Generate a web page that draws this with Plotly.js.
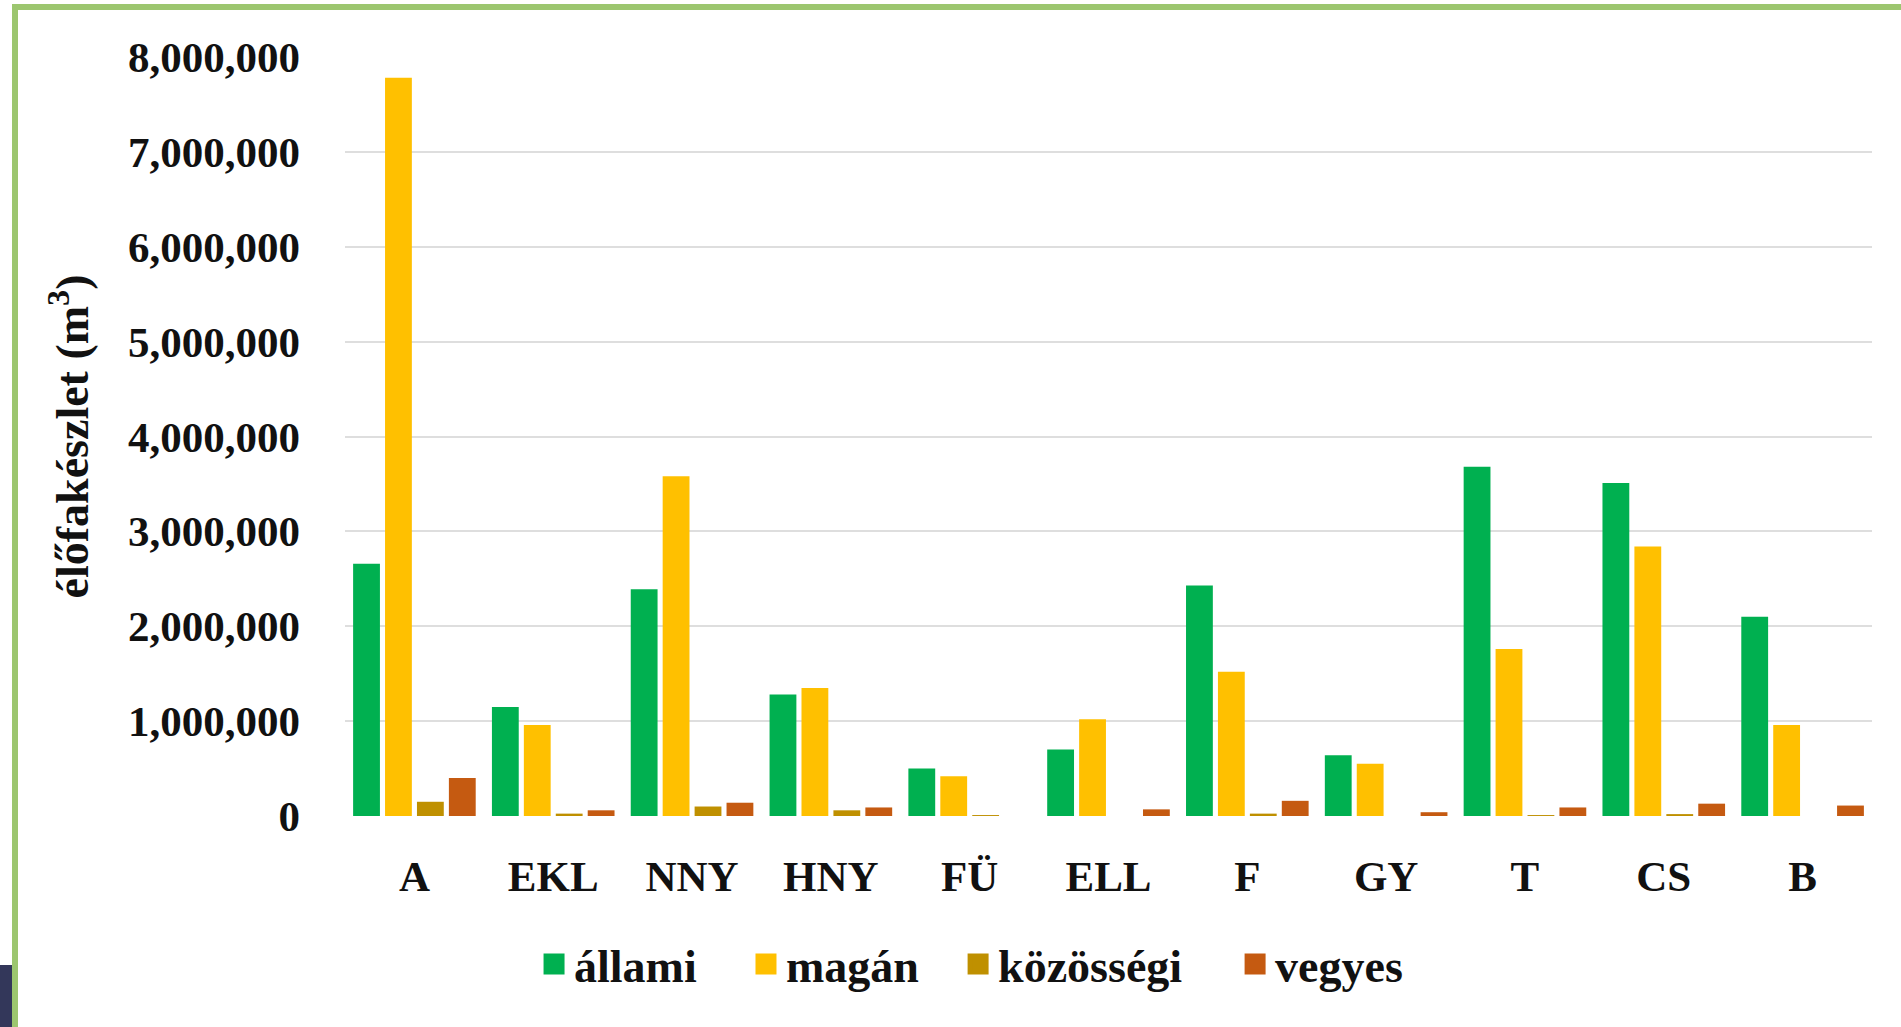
<!DOCTYPE html>
<html>
<head>
<meta charset="utf-8">
<script src="https://cdn.plot.ly/plotly-3.0.1.min.js"></script>
<style>
  html, body { margin: 0; padding: 0; background: #ffffff; overflow: hidden; }
  #chart { width: 1901px; height: 1027px; position: absolute; left: 0; top: 0; }
  .deco { position: absolute; pointer-events: none; }
</style>
</head>
<body>
<div id="chart"></div>
<div class="deco" style="left:12px; top:4px; width:1889px; height:6px; background:#9cc66f;"></div>
<div class="deco" style="left:12px; top:4px; width:6px; height:1023px; background:#9cc66f;"></div>
<div class="deco" style="left:0px; top:965px; width:12px; height:62px; background:#33375a;"></div>
<script>
const categories = ["A", "EKL", "NNY", "HNY", "FÜ", "ELL", "F", "GY", "T", "CS", "B"];
const allami     = [2660000, 1150000, 2390000, 1280000, 500000, 700000, 2430000, 640000, 3680000, 3510000, 2100000];
const magan      = [7780000, 960000, 3580000, 1350000, 420000, 1020000, 1520000, 550000, 1760000, 2840000, 960000];
const kozossegi  = [150000, 25000, 100000, 60000, 10000, 0, 25000, 0, 10000, 20000, 0];
const vegyes     = [400000, 60000, 140000, 90000, 0, 70000, 160000, 40000, 90000, 130000, 110000];
const seriesNames = ["állami", "magán", "közösségi", "vegyes"];
const seriesColors = ["#00b050", "#ffc000", "#bf9000", "#c55a11"];
const yTicks = [0, 1000000, 2000000, 3000000, 4000000, 5000000, 6000000, 7000000, 8000000];

const FONT = "Liberation Serif, DejaVu Serif, serif";
const seriesValues = [allami, magan, kozossegi, vegyes];
const legendIds = ["legend", "legend2", "legend3", "legend4"];
const legendX = [0.1238, 0.2626, 0.4015, 0.5829];

// bars (not in legend)
const barTraces = seriesValues.map((vals, i) => ({
  type: "bar",
  name: seriesNames[i],
  x: categories,
  y: vals,
  marker: { color: seriesColors[i] },
  showlegend: false,
  hoverinfo: "none"
}));

// legend entries with larger square swatches
const legendTraces = seriesNames.map((nm, i) => ({
  type: "scatter",
  mode: "markers",
  name: nm,
  x: [categories[0]],
  y: [null],
  marker: { symbol: "square", size: 16, color: seriesColors[i], line: { color: seriesColors[i], width: 5 } },
  legend: legendIds[i],
  showlegend: true,
  hoverinfo: "none"
}));

const legendFont = { family: FONT, size: 46, color: "#111111", weight: "bold" };
function mkLegend(i) {
  return {
    orientation: "h",
    x: legendX[i],
    xanchor: "left",
    y: -0.195,
    yanchor: "middle",
    itemsizing: "trace",
    font: legendFont,
    bgcolor: "rgba(0,0,0,0)",
    borderwidth: 0
  };
}

const layout = {
  width: 1901,
  height: 1027,
  margin: { l: 345, r: 29, t: 57, b: 211, pad: 0 },
  paper_bgcolor: "#ffffff",
  plot_bgcolor: "#ffffff",
  font: { family: FONT, size: 43, color: "#111111", weight: "bold" },
  barmode: "group",
  bargap: 0.08,
  bargroupgap: 0.16,
  showlegend: true,
  legend: mkLegend(0),
  legend2: mkLegend(1),
  legend3: mkLegend(2),
  legend4: mkLegend(3),
  xaxis: {
    type: "category",
    range: [-0.5, categories.length - 0.5],
    tickfont: { family: FONT, size: 43, color: "#111111", weight: "bold" },
    ticks: "",
    ticklabelstandoff: 31,
    showline: false,
    showgrid: false,
    zeroline: false
  },
  yaxis: {
    range: [0, 8000000],
    tickvals: yTicks,
    tickformat: ",d",
    tickfont: { family: FONT, size: 43, color: "#111111", weight: "bold" },
    ticks: "",
    ticklabelstandoff: 44,
    showgrid: true,
    gridcolor: "#dedede",
    gridwidth: 2,
    zeroline: false,
    showline: false,
    title: {
      text: "élőfakészlet (m<sup>3</sup>)",
      font: { family: FONT, size: 46, color: "#111111", weight: "bold" },
      standoff: 24
    }
  }
};

Plotly.newPlot("chart", barTraces.concat(legendTraces), layout, { displayModeBar: false, staticPlot: true });
</script>
</body>
</html>
